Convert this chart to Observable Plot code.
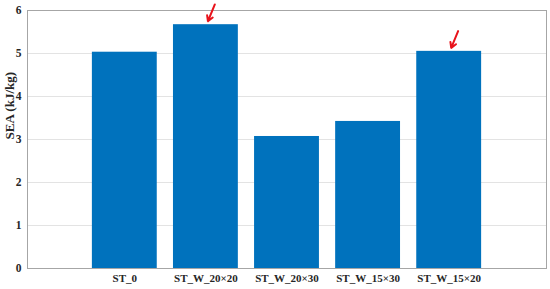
<!DOCTYPE html>
<html>
<head>
<meta charset="utf-8">
<script src="https://cdn.jsdelivr.net/npm/d3@7"></script>
<script src="https://cdn.jsdelivr.net/npm/@observablehq/plot@0.6"></script>
<style>
  html, body { margin: 0; padding: 0; background: #fff; }
  svg { display: block; }
</style>
</head>
<body>
<div id="chart"></div>
<script>
const categories = ["ST_0", "ST_W_20×20", "ST_W_20×30", "ST_W_15×30", "ST_W_15×20"];
const seaValues = [5.03, 5.67, 3.07, 3.42, 5.05];
const yTicks = [0, 1, 2, 3, 4, 5, 6];
const arrowCategories = ["ST_W_20×20", "ST_W_15×20"];
const yLabel = "SEA (kJ/kg)";

const bars = categories.map((c, i) => ({pos: i + 1, category: c, value: seaValues[i]}));
const arrows = arrowCategories.map(c => {
  const i = categories.indexOf(c);
  return {pos: i + 1, value: seaValues[i]};
});

const font = "'Liberation Serif', 'Times New Roman', serif";

const chart = Plot.plot({
  width: 550,
  height: 289,
  marginLeft: 27,
  marginRight: 4,
  marginTop: 10,
  marginBottom: 21,
  style: {fontFamily: font, fontSize: "11px", fontWeight: "bold", color: "#262626", background: "#fff"},
  x: {domain: [-0.2, 6.2]},
  y: {domain: [0, 6]},
  marks: [
    Plot.gridY(yTicks, {stroke: "#e3e3e3", strokeOpacity: 1}),
    Plot.rectY(bars, {x1: d => d.pos - 0.4, x2: d => d.pos + 0.4, y1: 0, y2: "value", fill: "#0072BD"}),
    Plot.frame({stroke: "#a6a6a6"}),
    Plot.axisY({ticks: yTicks, tickFormat: d3.format("d"), tickSize: 0, tickPadding: 6, label: null, fontSize: 11.5, fontWeight: "bold"}),
    Plot.text([yLabel], {text: d => d, frameAnchor: "left", rotate: -90, dx: -18, fontSize: 13, fontWeight: "bold", fill: "#262626"}),
    Plot.axisX({ticks: bars.map(d => d.pos), tickFormat: p => categories[p - 1], tickSize: 0, tickPadding: 6, label: null, fontSize: 11, fontWeight: "bold"}),
    Plot.arrow(arrows, {
      x1: d => d.pos + 0.11, y1: d => d.value + 0.47,
      x2: d => d.pos + 0.025, y2: d => d.value + 0.08,
      stroke: "#e8131b", strokeWidth: 2, headLength: 6
    })
  ]
});
document.getElementById("chart").appendChild(chart);
</script>
</body>
</html>
